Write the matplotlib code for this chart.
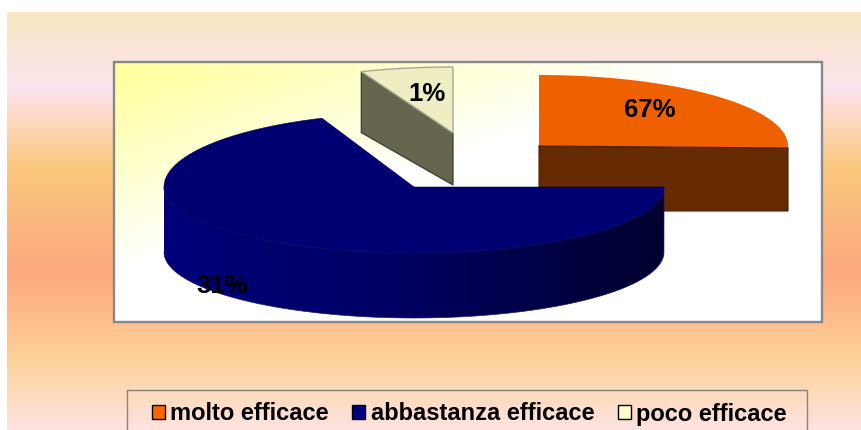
import matplotlib
matplotlib.use("Agg")
import matplotlib.pyplot as plt
import numpy as np
from matplotlib.patches import Patch, Polygon, Rectangle

plt.rcParams["font.family"] = ["Liberation Sans", "DejaVu Sans"]

categories = ["molto efficace", "abbastanza efficace", "poco efficace"]
# slice sizes as drawn in the picture (the printed labels do not agree with them)
drawn_shares = [25, 69, 6]
# printed labels as they stand in the picture
label_values = [67, 31, 1]

top_colors = ["#EE6000", "#000073", "#EEEEC2"]
side_colors = ["#662A00", "#000078", "#66664E"]
legend_colors = ["#FF6600", "#000080", "#FFFFCC"]

# slice geometry: apex x, apex y, x radius, y radius back, y radius front, depth
shapes = [
    (539, 146, 249, 71, 66, 63),
    (414, 187, 250, 74, 66, 65),
    (453, 133, 249, 66, 66, 52),
]


def arc(shape, a0, a1, n=120):
    cx, cy, rx, ry_back, ry_front, depth = shape
    a = np.radians(np.linspace(a0, a1, n))
    s = np.sin(a)
    ry = np.where(s > 0, ry_back, ry_front)
    return np.column_stack([cx + rx * np.cos(a), cy - ry * s])


fig = plt.figure(figsize=(8.62, 4.30), dpi=100)
ax = fig.add_axes([0, 0, 1, 1])
ax.set_xlim(0, 862)
ax.set_ylim(430, 0)
ax.axis("off")

# page background, vertical bands
stop_y = [12, 88, 167, 273, 360, 430]
stop_c = np.array([[249, 230, 195], [254, 228, 238], [250, 200, 125],
                   [252, 168, 125], [252, 210, 155], [254, 228, 226]]) / 255
yy = np.arange(12, 430)
bg = np.column_stack([np.interp(yy, stop_y, stop_c[:, i]) for i in range(3)])
ax.imshow(bg[:, None, :], extent=(7, 862, 430, 12), aspect="auto", zorder=0)

# plot area, yellow corner fading to white
X, Y = np.meshgrid(np.arange(114, 822), np.arange(62, 322))
t = np.clip(np.maximum(X - 130, 0) / 560 + np.maximum(Y - 75, 0) / 190, 0, 1)
area = np.ones(X.shape + (3,))
area[:, :, 2] = (160 + 95 * t) / 255
ax.imshow(area, extent=(114, 822, 322, 62), aspect="auto", zorder=1)
ax.add_patch(Rectangle((114, 62), 708, 260, fill=False, ec="#888888", lw=1.7, zorder=2))

# slice angles, clockwise from 12 o'clock
sweeps = np.array(drawn_shares) / sum(drawn_shares) * 360
ends = 90 - np.cumsum(sweeps)
starts = ends + sweeps

# orange slice
s = shapes[0]
top = arc(s, starts[0], ends[0])
right = top[-1]
ax.add_patch(Polygon([(s[0], s[1]), (right[0], s[1] + 2), (right[0], s[1] + 2 + s[5]),
                      (s[0], s[1] + 2 + s[5])], fc=side_colors[0], ec="#4A2000", lw=0.8, zorder=3))
ax.add_patch(Polygon(np.vstack([[(s[0], s[1])], top, [(right[0], s[1] + 2)]]),
                     fc=top_colors[0], ec="none", zorder=4))
ax.plot([s[0], right[0]], [s[1], s[1] + 2], color="#4A2000", lw=0.8, zorder=4)

# pale slice
s = shapes[2]
top = arc(s, starts[2], ends[2])
apex = np.array([s[0], s[1]])
ax.add_patch(Polygon([top[0], apex, apex + (0, s[5]), top[0] + (0, s[5] + 9)],
                     fc=side_colors[2], ec="#3C3C30", lw=0.9, zorder=3))
ax.add_patch(Polygon(np.vstack([top, [apex]]), fc=top_colors[2], ec="#A8A898", lw=1.0, zorder=4))

# navy slice
s = shapes[1]
apex = np.array([s[0], s[1]])
front = arc(s, 180, 360)
side = np.vstack([front, front[::-1] + (0, s[5])])
poly = Polygon(side, fc="none", ec="none", zorder=5)
ax.add_patch(poly)
shade = np.interp(np.linspace(0, 1, 256), [0, 0.45, 1], [122, 100, 46])
img = np.zeros((1, 256, 3))
img[0, :, 2] = shade / 255
grad = ax.imshow(img, extent=(s[0] - s[2], s[0] + s[2], 330, 180), aspect="auto", zorder=5)
grad.set_clip_path(poly)
ax.plot(*side.T, color="#1A1A70", lw=0.5, zorder=5)
top = arc(s, starts[1], ends[1], 240)
ax.add_patch(Polygon(np.vstack([[apex], top]), fc=top_colors[1], ec="#000060", lw=0.4, zorder=6))

# printed labels
for x, y, v in zip([650, 222, 427], [110, 286, 94], label_values):
    ax.text(x, y, f"{v}%", ha="center", va="center", fontsize=18.5, fontweight="bold",
            color="black", zorder=7)

# legend
ax.add_patch(Rectangle((127, 390), 680, 60, fill=False, ec="#8A8272", lw=1.0, zorder=2))
handles = [Patch(fc=c, ec="black", lw=1.0) for c in legend_colors]
ax.legend(handles, categories, loc="center left", bbox_to_anchor=(152 / 862, 1 - 414 / 430),
          ncol=3, frameon=False, borderpad=0, borderaxespad=0, handlelength=0.55, handleheight=0.55,
          handletextpad=0.22, columnspacing=1.0,
          prop={"size": 17, "weight": "bold"}, labelcolor="black")

fig.savefig("out.png", dpi=100)
plt.close()
